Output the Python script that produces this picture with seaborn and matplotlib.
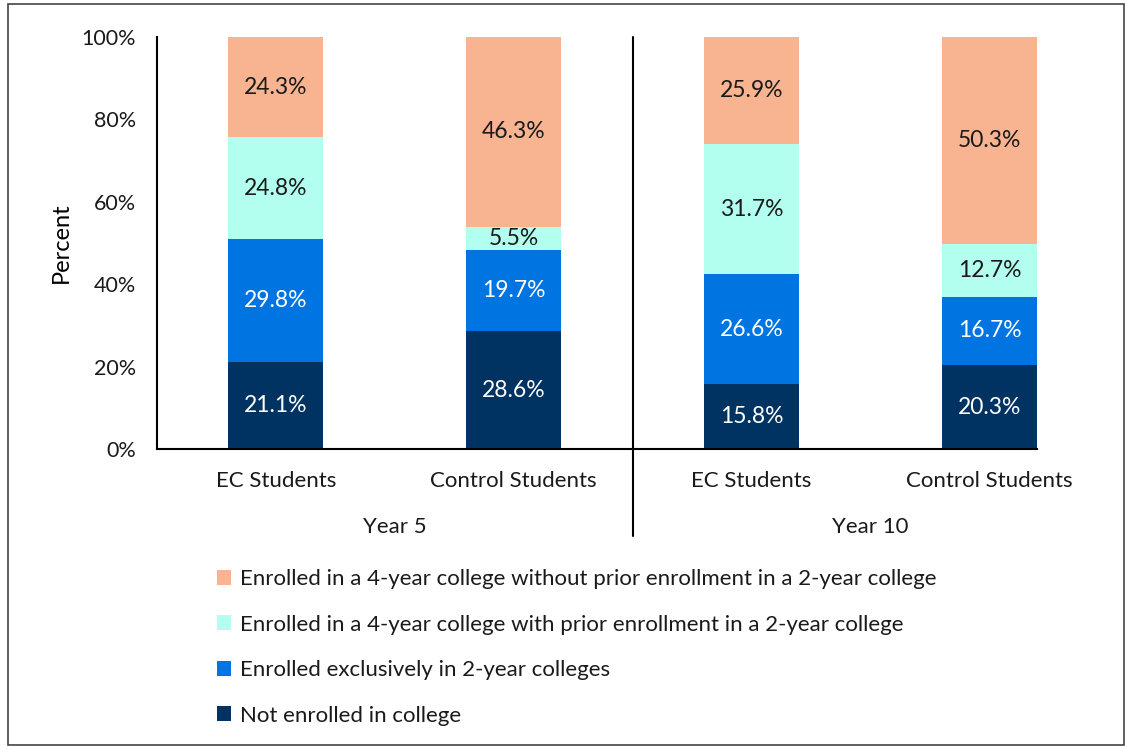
import matplotlib
matplotlib.use("Agg")
import matplotlib.pyplot as plt
import seaborn as sns
import pandas as pd
import numpy as np
from matplotlib.patches import Rectangle, Patch

sns.set_theme(style="white")
plt.rcParams['font.family'] = ['Lato', 'DejaVu Sans']

groups = ["EC Students", "Control Students", "EC Students", "Control Students"]
years = ["Year 5", "Year 10"]
series_names = [
    "Not enrolled in college",
    "Enrolled exclusively in 2-year colleges",
    "Enrolled in a 4-year college with prior enrollment in a 2-year college",
    "Enrolled in a 4-year college without prior enrollment in a 2-year college",
]
not_enrolled = [21.1, 28.6, 15.8, 20.3]
two_year_only = [29.8, 19.7, 26.6, 16.7]
four_with_prior = [24.8, 5.5, 31.7, 12.7]
four_without_prior = [24.3, 46.3, 25.9, 50.3]
colors = ["#003361", "#0074E0", "#B3FFEF", "#F8B490"]
text_colors = ["white", "white", "#1a1a1a", "#1a1a1a"]

series = [not_enrolled, two_year_only, four_with_prior, four_without_prior]
positions = [f"p{i}" for i in range(len(groups))]

fig = plt.figure(figsize=(11.27, 7.49), dpi=100)
ax = fig.add_axes([157/1127, 1-449/749, (1037-157)/1127, (449-37)/749])

bottom = np.zeros(len(groups))
for name, vals, col, tc in zip(series_names, series, colors, text_colors):
    df = pd.DataFrame({"pos": positions, "val": vals})
    sns.barplot(data=df, x="pos", y="val", color=col, bottom=bottom, width=0.4,
                ax=ax, saturation=1, edgecolor="none", linewidth=0)
    for i, v in enumerate(vals):
        ax.text(i, bottom[i] + v/2, f"{v:.1f}%", ha="center", va="center",
                color=tc, fontsize=16.5)
    bottom = bottom + np.array(vals)

ax.set_xlim(-0.5, 3.2)
ax.set_ylim(0, 100)
ax.set_yticks(np.arange(0, 101, 20))
ax.set_yticklabels([f"{t}%" for t in range(0, 101, 20)], fontsize=15.5, color="#1a1a1a")
ax.set_xticks([])
ax.set_xlabel("")
ax.set_ylabel("Percent", fontsize=17, color="#000000", labelpad=7)
for s in ["top", "right"]:
    ax.spines[s].set_visible(False)
for s in ["left", "bottom"]:
    ax.spines[s].set_color("black")
    ax.spines[s].set_linewidth(1.5)
ax.tick_params(axis="y", length=0, pad=15)

# category labels
for i, g in enumerate(groups):
    ax.text(i, -7.8, g, ha="center", va="center", fontsize=16, color="#1a1a1a",
            transform=ax.transData, clip_on=False)
for j, y in enumerate(years):
    ax.text(0.5 + 2*j, -19, y, ha="center", va="center", fontsize=16, color="#1a1a1a",
            clip_on=False)
# divider
ax.plot([1.5, 1.5], [100, -21], color="black", lw=1.5, clip_on=False)

handles = [Patch(facecolor=c, edgecolor="none") for c in colors[::-1]]
leg = fig.legend(handles, series_names[::-1], loc="upper left",
                 bbox_to_anchor=(197/1127, 1-549/749), frameon=False,
                 fontsize=16, handlelength=0.65, handleheight=0.65,
                 labelspacing=1.15, handletextpad=0.4)
for t in leg.get_texts():
    t.set_color("#1a1a1a")

fig.patches.append(Rectangle((8/1127, 4/749), 1116/1127, 741/749, transform=fig.transFigure,
                             fill=False, edgecolor="#444444", lw=1.2))

fig.savefig("out.png", dpi=100)
